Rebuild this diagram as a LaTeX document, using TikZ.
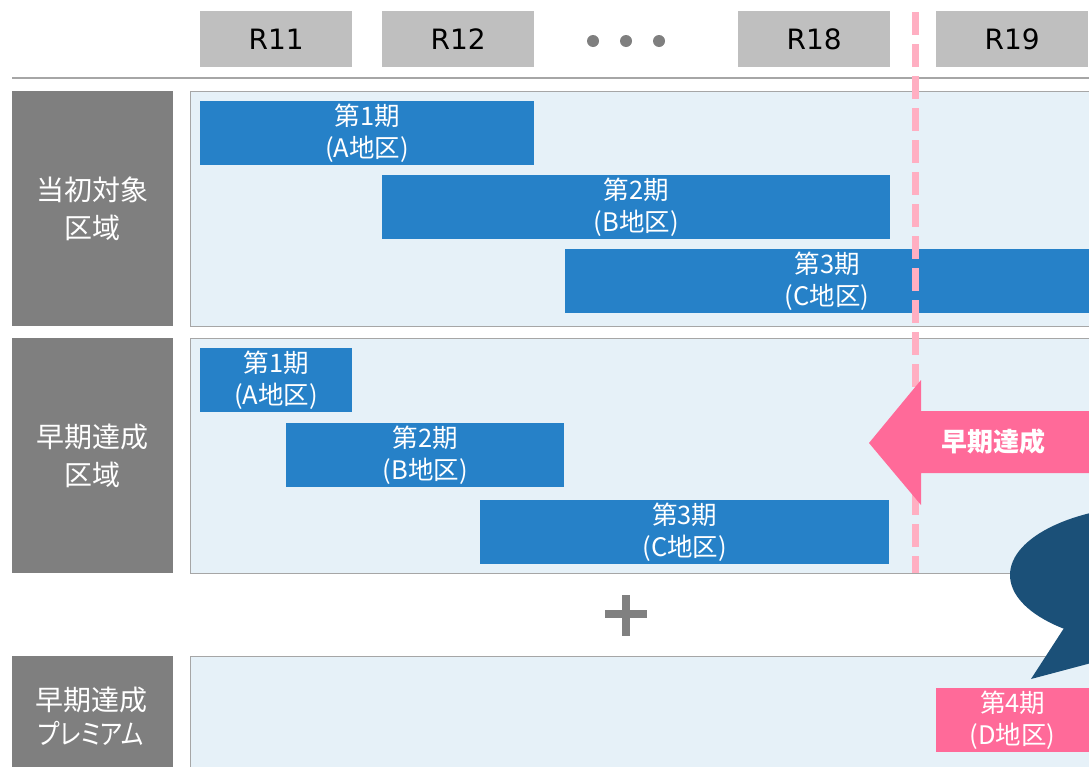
\documentclass[tikz,border=0pt]{standalone}
\usepackage{fontspec}
\setmainfont{Noto Sans CJK JP}
\newfontfamily\hdrfont{DejaVu Sans}
\newfontfamily\paltfont[RawFeature=+palt]{Noto Sans CJK JP}
\usetikzlibrary{shapes.geometric}
\definecolor{hdrgray}{HTML}{BFBFBF}
\definecolor{lblgray}{HTML}{7F7F7F}
\definecolor{barblue}{HTML}{2681C8}
\definecolor{panelbg}{HTML}{E6F1F8}
\definecolor{panelbd}{HTML}{A6A6A6}
\definecolor{arrowpink}{HTML}{FF6A99}
\definecolor{dashpink}{HTML}{FFAFC2}
\definecolor{bubble}{HTML}{1B5078}
\definecolor{plusgray}{HTML}{808080}
\tikzset{
  hdr/.style={fill=hdrgray, inner sep=0, minimum width=152pt, minimum height=56pt, anchor=north west, font=\hdrfont\fontsize{28}{32}\selectfont, text=black},
  lbl/.style={fill=lblgray, inner sep=0, minimum width=161pt, anchor=north west, text=white, align=center, font=\fontsize{28}{38}\selectfont},
  panel/.style={fill=panelbg, draw=panelbd, line width=1.2pt, inner sep=0, anchor=north west},
  bar/.style={fill=barblue, inner sep=0, minimum height=64pt, anchor=north west, text=white, align=center, font=\fontsize{25.5}{32}\selectfont},
  pinkbar/.style={bar, fill=arrowpink},
  dot/.style={circle, fill=lblgray, inner sep=0, minimum size=12pt}
}
\begin{document}
\begin{tikzpicture}[x=1pt,y=-1pt]
\useasboundingbox (0,0) rectangle (1089,766);
\clip (0,0) rectangle (1089,766);
% header
\node[hdr] (r11) at (200,11) {R11};
\node[hdr] (r12) at (382,11) {R12};
\node[dot] (d1) at (593,41) {};
\node[dot] (d2) at (626,41) {};
\node[dot] (d3) at (659,41) {};
\node[hdr] (r18) at (738,11) {R18};
\node[hdr] (r19) at (936,11) {R19};
\coordinate (hl) at (12,78);
\coordinate (hr) at (1089,78);
\draw[panelbd, line width=1.5pt] (hl) -- (hr);
% labels
\node[lbl, minimum height=235pt] (l1) at (12,91) {当初対象\\区域};
\node[lbl, minimum height=235pt] (l2) at (12,338) {早期達成\\区域};
\node[lbl, minimum height=120pt] (l3) at (12,656) {};
\node[text=white, align=center, font=\fontsize{28}{34}\selectfont] (l3t) at (91,716) {早期達成\\\scalebox{0.85}[1]{\paltfont プレミアム}};
% panels
\node[panel, minimum width=920pt, minimum height=235pt] (pa) at (190,91) {};
\node[panel, minimum width=920pt, minimum height=235pt] (pb) at (190,338) {};
\node[panel, minimum width=920pt, minimum height=130pt] (pc) at (190,656) {};
% bars panel 1
\node[bar, minimum width=334pt] (a1) at (200,101) {第1期\\(A地区)};
\node[bar, minimum width=508pt] (a2) at (382,175) {第2期\\(B地区)};
\node[bar, minimum width=524pt] (a3) at (565,249) {第3期\\(C地区)};
% bars panel 2
\node[bar, minimum width=152pt] (b1) at (200,348) {第1期\\(A地区)};
\node[bar, minimum width=278pt] (b2) at (286,423) {第2期\\(B地区)};
\node[bar, minimum width=409pt] (b3) at (480,500) {第3期\\(C地区)};
% dashed line
\coordinate (dt) at (915,12);
\coordinate (db) at (915,573);
\draw[dashpink, line width=7pt, dash pattern=on 23pt off 9pt] (dt) -- (db);
% arrow
\fill[arrowpink] (869,443) -- (921,380) -- (921,411) -- (1095,411) -- (1095,473) -- (921,473) -- (921,505) -- cycle;
\node[text=white, font=\fontsize{26}{30}\selectfont\bfseries] (arr) at (993,442) {早期達成};
% plus
\draw[plusgray, line width=8pt] (605,614) -- (647,614);
\draw[plusgray, line width=8pt] (626,595) -- (626,636);
% bubble
\fill[bubble] (1160,575) ellipse [x radius=150pt, y radius=70pt];
\fill[bubble] (1066,625) -- (1031,679) -- (1095,662) -- (1110,615) -- cycle;
% premium bar
\node[pinkbar, minimum width=153pt] (c4) at (936,688) {第4期\\(D地区)};
\end{tikzpicture}
\end{document}
